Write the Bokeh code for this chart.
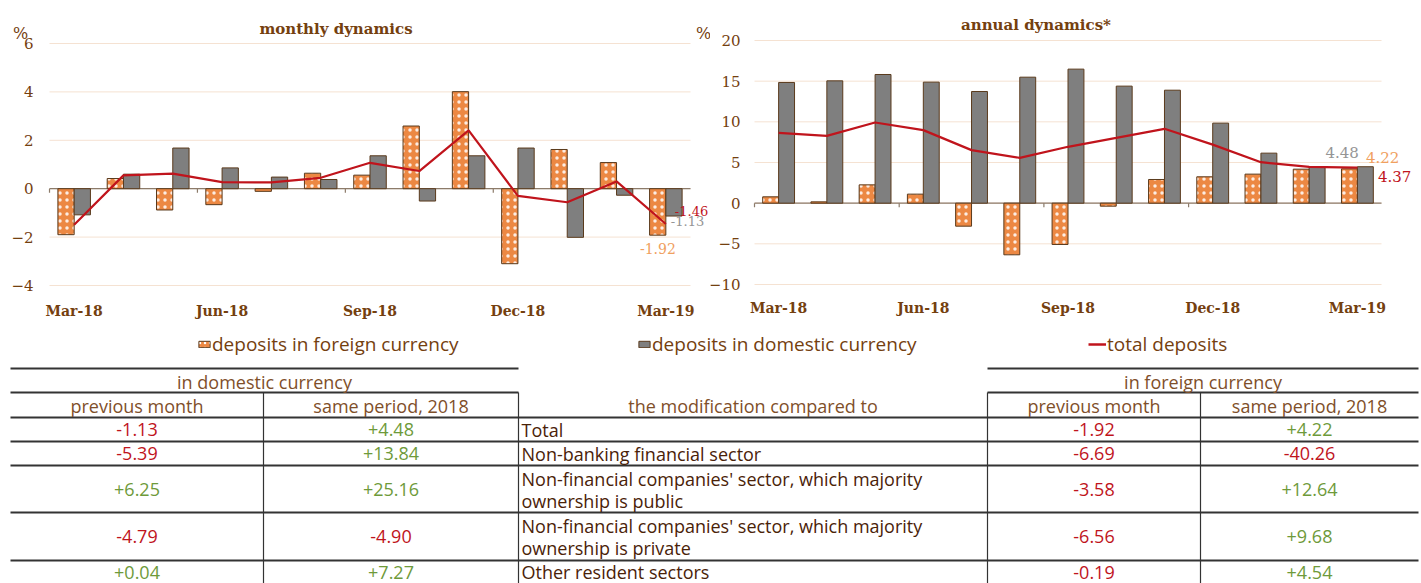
import numpy as np
from bokeh.plotting import figure
from bokeh.models import (Range1d, FixedTicker, LinearAxis, Label, Legend, LegendItem,
                          ColumnDataSource)
from bokeh.transform import dodge
from bokeh.layouts import column, row
from bokeh.embed import file_html
from bokeh.resources import INLINE

# ---------------- data ----------------
months = ["Mar-18", "Apr-18", "May-18", "Jun-18", "Jul-18", "Aug-18", "Sep-18",
          "Oct-18", "Nov-18", "Dec-18", "Jan-19", "Feb-19", "Mar-19"]

monthly_foreign = [-1.90, 0.42, -0.88, -0.66, -0.11, 0.64, 0.56, 2.59, 4.01, -3.10, 1.62, 1.08, -1.92]
monthly_domestic = [-1.08, 0.60, 1.68, 0.86, 0.48, 0.38, 1.36, -0.51, 1.36, 1.68, -2.01, -0.27, -1.13]
monthly_total = [-1.49, 0.55, 0.62, 0.27, 0.26, 0.45, 1.07, 0.73, 2.41, -0.30, -0.56, 0.30, -1.46]

annual_foreign = [0.78, 0.16, 2.25, 1.11, -2.83, -6.35, -5.08, -0.37, 2.91, 3.24, 3.57, 4.18, 4.22]
annual_domestic = [14.84, 15.04, 15.82, 14.88, 13.73, 15.49, 16.48, 14.39, 13.89, 9.84, 6.15, 4.47, 4.48]
annual_total = [8.65, 8.28, 9.92, 8.98, 6.52, 5.57, 6.93, 8.03, 9.14, 7.20, 5.04, 4.45, 4.37]

monthly_ticks = [-4, -2, 0, 2, 4, 6]
annual_ticks = [-10, -5, 0, 5, 10, 15, 20]
label_months = [0, 3, 6, 9, 12]

legend_labels = ["deposits in foreign currency", "deposits in domestic currency", "total deposits"]

table_header_left = "in domestic currency"
table_header_right = "in foreign currency"
table_header_mid = "the modification compared to"
table_sub = ["previous month", "same period, 2018"]
sectors = [["Total"],
           ["Non-banking financial sector"],
           ["Non-financial companies' sector, which majority", "ownership is public"],
           ["Non-financial companies' sector, which majority", "ownership is private"],
           ["Other resident sectors"]]
dom_prev = [-1.13, -5.39, 6.25, -4.79, 0.04]
dom_same = [4.48, 13.84, 25.16, -4.90, 7.27]
for_prev = [-1.92, -6.69, -3.58, -6.56, -0.19]
for_same = [4.22, -40.26, 12.64, 9.68, 4.54]

# ---------------- style ----------------
ORANGE = "#ec8843"
GRAY = "#7f7f7f"
RED = "#c0141c"
OUTLINE = "#5a3a1c"
BROWN = "#74400f"
GRID = "#f5e2d2"
ZERO = "#8c7b6a"
SERIF = "DejaVu Serif"
SANS = "Open Sans"
POS = "#6e9a3a"
NEG = "#c0141c"
HDR = "#7f4f2a"
LBL_GRAY = "#959595"
LBL_ORANGE = "#f0a060"

CH_H = 330


def make_chart(width, xr, yr, ticks, xlab_y, foreign, domestic, total, ystand=16):
    p = figure(width=width, height=CH_H, output_backend="svg", toolbar_location=None,
               x_range=Range1d(*xr), y_range=Range1d(*yr),
               x_axis_location=None, y_axis_location=None, min_border=0)
    p.outline_line_color = None
    p.grid.visible = False
    px_per_unit_y = CH_H / (yr[1] - yr[0])

    # horizontal gridlines bounded to the plotting area
    gx0 = [-0.5] * len(ticks)
    gx1 = [len(months) - 0.5] * len(ticks)
    p.segment(x0=gx0, x1=gx1, y0=ticks, y1=ticks, line_color=GRID, line_width=1)

    # y axis (labels only)
    yax = LinearAxis(fixed_location=-0.5, ticker=FixedTicker(ticks=ticks),
                     axis_line_color=None, major_tick_line_color=None,
                     minor_tick_line_color=None, major_tick_in=0, major_tick_out=0,
                     major_label_standoff=ystand, major_label_text_font=SERIF,
                     major_label_text_font_size="15px", major_label_text_color=BROWN)
    p.add_layout(yax, "left")

    # x axis (labels only)
    xax = LinearAxis(fixed_location=xlab_y, ticker=FixedTicker(ticks=label_months),
                     major_label_overrides={i: months[i] for i in label_months},
                     axis_line_color=None, major_tick_line_color=None,
                     minor_tick_line_color=None, major_tick_in=0, major_tick_out=0,
                     major_label_standoff=3, major_label_text_font=SERIF,
                     major_label_text_font_style="bold",
                     major_label_text_font_size="14px", major_label_text_color=BROWN)
    p.add_layout(xax, "below")

    # zero line with group tick marks
    p.segment(x0=[-0.5], x1=[len(months) - 0.5], y0=[0], y1=[0], line_color=ZERO, line_width=1.2)
    bt = [t - 0.5 for t in label_months[:-1]]
    p.segment(x0=bt, x1=bt, y0=[0] * len(bt), y1=[-4 / px_per_unit_y] * len(bt),
              line_color=ZERO, line_width=1.2)

    src = ColumnDataSource(dict(x=list(range(len(months))), foreign=foreign,
                                domestic=domestic, total=total))
    p.vbar(x=dodge("x", -0.165), top="foreign", bottom=0, width=0.33, source=src,
           fill_color=ORANGE, line_color=OUTLINE, line_width=1,
           hatch_pattern="dot", hatch_color="white", hatch_scale=7, hatch_weight=0.3,
           hatch_alpha=0.85)
    p.vbar(x=dodge("x", 0.165), top="domestic", bottom=0, width=0.33, source=src,
           fill_color=GRAY, line_color=OUTLINE, line_width=1)
    p.line("x", "total", source=src, line_color=RED, line_width=2.2)
    return p


def lbl(p, x, y, text, color, dx=0, dy=0, size="15px", align="left", font=SERIF, style="normal"):
    p.add_layout(Label(x=x, y=y, x_offset=dx, y_offset=dy, text=text, text_color=color,
                       text_font=font, text_font_size=size, text_align=align,
                       text_baseline="middle", text_font_style=style))


# ---------------- monthly chart ----------------
p1 = make_chart(710, (-1.494, 12.9056), (-5.86, 7.777), monthly_ticks, -4.6,
                monthly_foreign, monthly_domestic, monthly_total)
lbl(p1, 6, 6, "monthly dynamics", BROWN, dx=-34, dy=15, size="15px", align="center", style="bold")
lbl(p1, -0.5, 6, "%", BROWN, dx=-29, dy=10, size="16px", align="center")
lbl(p1, 12, monthly_total[-1], f"{monthly_total[-1]:.2f}", RED, dx=9, dy=13, size="13px")
lbl(p1, 12, monthly_domestic[-1], f"{monthly_domestic[-1]:.2f}", LBL_GRAY, dx=5, dy=-5, size="13px")
lbl(p1, 12, monthly_foreign[-1], f"{monthly_foreign[-1]:.2f}", LBL_ORANGE, dx=-8, dy=-13,
    align="center", size="14px")
# "%" unit sign of the annual chart (sits left of that chart's axis)
lbl(p1, 12.5, 6, "%", BROWN, dx=13, dy=10, size="16px", align="center")

# ---------------- annual chart ----------------
p2 = make_chart(711, (-1.4123, 13.329), (-15.657, 24.918), annual_ticks, -11.48,
                annual_foreign, annual_domestic, annual_total, ystand=14)
lbl(p2, 6, 20, "annual dynamics*", BROWN, dx=-32, dy=15, size="15px", align="center", style="bold")
lbl(p2, 12, annual_domestic[-1], f"{annual_domestic[-1]:.2f}", LBL_GRAY, dx=1.5, dy=14.5, align="right")
lbl(p2, 12, annual_foreign[-1], f"{annual_foreign[-1]:.2f}", LBL_ORANGE, dx=8.5, dy=11.5)
lbl(p2, 12, annual_total[-1], f"{annual_total[-1]:.2f}", RED, dx=20.5, dy=-8.5)

# ---------------- legend + table ----------------
tab = figure(width=1421, height=253, output_backend="svg", toolbar_location=None,
             x_range=Range1d(0, 1421), y_range=Range1d(583, 330),
             x_axis_type=None, y_axis_type=None, min_border=0)
tab.outline_line_color = None
tab.grid.visible = False

nan = float("nan")
r_f = tab.vbar(x=[nan], top=[nan], width=1, fill_color=ORANGE, line_color=OUTLINE,
               hatch_pattern="dot", hatch_color="white", hatch_scale=5, hatch_weight=0.3)
r_d = tab.vbar(x=[nan], top=[nan], width=1, fill_color=GRAY, line_color=OUTLINE)
r_t = tab.line(x=[nan], y=[nan], line_color=RED, line_width=2.5)
for r, lab, xloc, gw in [(r_f, legend_labels[0], 197, 14), (r_d, legend_labels[1], 637, 14),
                         (r_t, legend_labels[2], 1088, 18)]:
    leg = Legend(items=[LegendItem(label=lab, renderers=[r])], location=(xloc, 226),
                 orientation="horizontal", glyph_width=gw, glyph_height=8, label_standoff=1,
                 padding=0, margin=0, border_line_color=None, background_fill_alpha=0,
                 label_text_font=SANS, label_text_font_size="19px", label_text_color=BROWN,
                 label_height=20)
    tab.add_layout(leg, "center")

# table geometry (layout positions)
L = [10, 263, 518]
R = [987, 1200, 1418]
y_top, y_sub, y_head = 368, 392, 417
row_lines = [417, 441, 465, 512, 560, 583]

hx0, hx1, hy = [], [], []
for y in (y_top, y_sub):
    hx0 += [L[0], R[0]]; hx1 += [L[2], R[2]]; hy += [y, y]
for y in row_lines[:-1]:
    hx0.append(L[0]); hx1.append(R[2]); hy.append(y)
tab.segment(x0=hx0, x1=hx1, y0=hy, y1=hy, line_color="#333333", line_width=1.8)
vx = [L[1], L[2], R[0], R[1]]
tab.segment(x0=vx, x1=vx, y0=[y_sub] * 4, y1=[583] * 4, line_color="#333333", line_width=1.2)

tx, ty, tt, tc, ta = [], [], [], [], []


def add(x, y, t, c, a="center"):
    tx.append(x); ty.append(y); tt.append(t); tc.append(c); ta.append(a)


add((L[0] + L[2]) / 2, (y_top + y_sub) / 2 + 1, table_header_left, HDR)
add((R[0] + R[2]) / 2, (y_top + y_sub) / 2 + 1, table_header_right, HDR)
add((L[2] + R[0]) / 2, (y_sub + y_head) / 2 + 1, table_header_mid, HDR)
cols = [(L[0] + L[1]) / 2, (L[1] + L[2]) / 2, (R[0] + R[1]) / 2, (R[1] + R[2]) / 2]
for cx, t in zip(cols, table_sub * 2):
    add(cx, (y_sub + y_head) / 2 + 1, t, HDR)
for i in range(5):
    top_, bot_ = row_lines[i], row_lines[i + 1]
    mid = (top_ + bot_) / 2
    lines = sectors[i]
    if len(lines) == 1:
        add(L[2] + 3, mid, lines[0], "#4a2208", "left")
    else:
        add(L[2] + 3, mid - 10.5, lines[0], "#4a2208", "left")
        add(L[2] + 3, mid + 11.5, lines[1], "#4a2208", "left")
    for cx, vals in zip(cols, [dom_prev, dom_same, for_prev, for_same]):
        v = vals[i]
        s = f"{v:+.2f}" if v > 0 else f"{v:.2f}"
        add(cx, mid, s, POS if v > 0 else NEG)

tsrc = ColumnDataSource(dict(x=tx, y=ty, t=tt, c=tc, a=ta))
tab.text(x="x", y="y", text="t", text_color="c", text_align="a", source=tsrc,
         text_baseline="middle", text_font={"value": SANS}, text_font_size="18px")

layout = column(row(p1, p2, spacing=0), tab, spacing=0)
open("out.html", "w").write(file_html(layout, INLINE))
